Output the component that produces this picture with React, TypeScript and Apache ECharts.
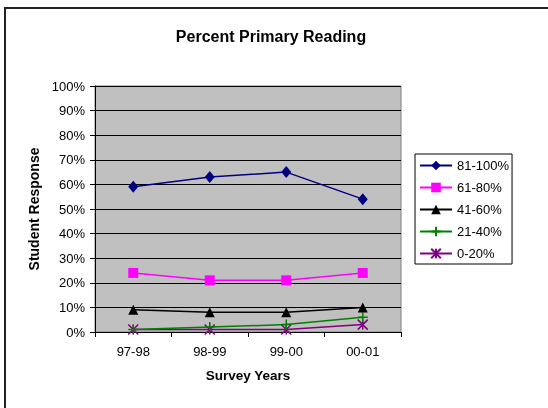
import React, { useEffect, useRef } from "react";
import * as echarts from "echarts";

const categories = ["97-98", "98-99", "99-00", "00-01"];
const seriesNames = ["81-100%", "61-80%", "41-60%", "21-40%", "0-20%"];
const s81to100 = [59, 63, 65, 54];
const s61to80 = [24, 21, 21, 24];
const s41to60 = [9, 8, 8, 10];
const s21to40 = [1, 2, 3, 6];
const s0to20 = [1, 1, 1, 3];
const seriesData = [s81to100, s61to80, s41to60, s21to40, s0to20];
const colors = ["#000080", "#FF00FF", "#000000", "#008000", "#800080"];
const yTicks = [0, 10, 20, 30, 40, 50, 60, 70, 80, 90, 100];

const PLUS = "path://M5,0L5,10M0,5L10,5";
const STAR = "path://M0,0L10,10M10,0L0,10M5,0L5,10";
const symbols = ["diamond", "rect", "triangle", PLUS, STAR];
const symbolSizes = [[10, 12], 10, 10, 10, 10];

const FONT = "'Liberation Sans', Arial, sans-serif";

export default function App() {
  const ref = useRef<HTMLDivElement>(null);
  useEffect(() => {
    if (!ref.current) return;
    const chart = echarts.init(ref.current, undefined, { renderer: "svg" });
    chart.setOption({
      animation: false,
      textStyle: { fontFamily: FONT },
      title: {
        text: "Percent Primary Reading",
        left: 266,
        top: 23,
        textAlign: "center",
        textStyle: { fontSize: 16, fontWeight: "bold", color: "#000", fontFamily: FONT },
      },
      graphic: [
        {
          type: "rect",
          shape: { x: 4, y: 7, width: 2, height: 401 },
          style: { fill: "#222" },
          z: 100,
        },
        {
          type: "rect",
          shape: { x: 4, y: 7, width: 544, height: 2 },
          style: { fill: "#222" },
          z: 100,
        },
      ],
      legend: {
        orient: "vertical",
        left: 415,
        top: 154,
        padding: [4, 3, 3, 4],
        itemGap: 7,
        itemWidth: 32,
        itemHeight: 12,
        borderColor: "#000",
        borderWidth: 1,
        backgroundColor: "#fff",
        textStyle: { fontSize: 13, color: "#000", fontFamily: FONT, lineHeight: 15 },
        data: seriesNames,
      },
      grid: {
        left: 95,
        right: 147,
        top: 86,
        bottom: 76,
        show: true,
        backgroundColor: "#C0C0C0",
        borderColor: "#808080",
        borderWidth: 1,
      },
      xAxis: {
        type: "category",
        data: categories,
        boundaryGap: true,
        name: "Survey Years",
        nameLocation: "middle",
        nameGap: 36,
        nameTextStyle: { fontSize: 13.5, fontWeight: "bold", color: "#000", fontFamily: FONT },
        axisLine: { lineStyle: { color: "#000", width: 1 } },
        axisTick: { show: true, length: 5, alignWithLabel: false, lineStyle: { color: "#000" } },
        axisLabel: { fontSize: 13, color: "#000", margin: 13, fontFamily: FONT },
        splitLine: { show: false },
      },
      yAxis: {
        type: "value",
        min: 0,
        max: 100,
        interval: 10,
        name: "Student Response",
        nameLocation: "middle",
        nameGap: 48,
        nameTextStyle: { fontSize: 14, fontWeight: "bold", color: "#000", fontFamily: FONT },
        axisLine: { show: true, lineStyle: { color: "#000", width: 1 } },
        axisTick: { show: true, length: 5, inside: false, lineStyle: { color: "#000" } },
        axisLabel: {
          fontSize: 13,
          color: "#000",
          margin: 10,
          fontFamily: FONT,
          formatter: (v: number) => (yTicks.includes(v) ? v + "%" : ""),
        },
        splitLine: { show: true, lineStyle: { color: "#000", width: 1 } },
      },
      series: seriesNames.map((name, i) => ({
        name,
        type: "line",
        data: seriesData[i],
        symbol: symbols[i],
        symbolSize: symbolSizes[i],
        showSymbol: true,
        lineStyle: { color: colors[i], width: 1.5 },
        itemStyle:
          i >= 3
            ? { color: colors[i], borderColor: colors[i], borderWidth: 1.5 }
            : { color: colors[i], borderColor: colors[i], borderWidth: 0 },
        emphasis: { disabled: true },
        z: 10 - i,
      })),
    });
    return () => chart.dispose();
  }, []);
  return (
    <div
      ref={ref}
      style={{ position: "fixed", left: 0, top: 0, width: 548, height: 408 }}
    />
  );
}
